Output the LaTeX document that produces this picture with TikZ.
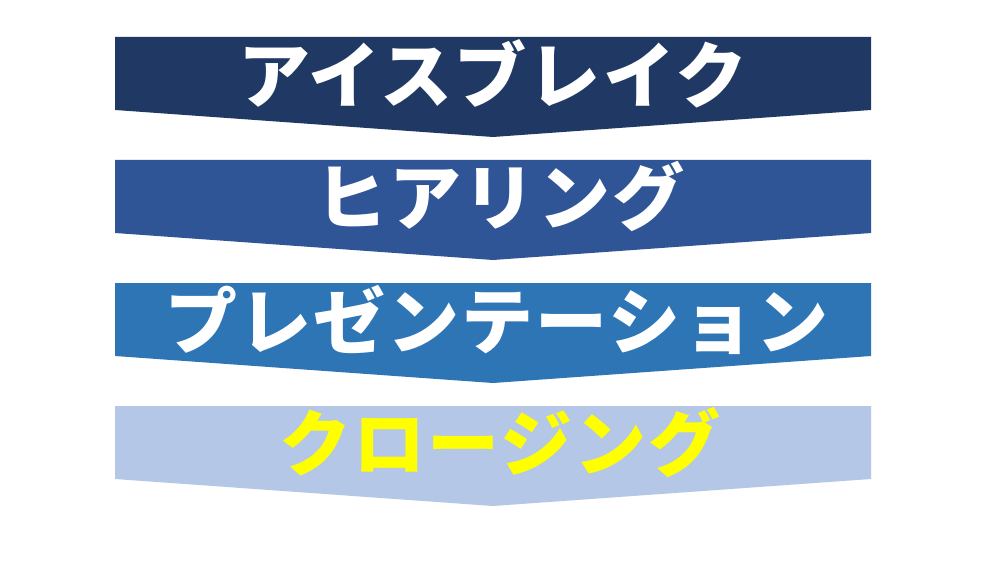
\documentclass[tikz,border=0pt]{standalone}
\usepackage{fontspec}
\newfontfamily\jp{Noto Sans CJK JP}
\definecolor{cA}{HTML}{203864}
\definecolor{cB}{HTML}{2F5597}
\definecolor{cC}{HTML}{2E75B6}
\definecolor{cD}{HTML}{B4C7E7}
\definecolor{cY}{HTML}{FFFF00}
\tikzset{
  label text/.style={font=\jp\bfseries\fontsize{72}{80}\selectfont\addfontfeature{LetterSpace=3}, inner sep=0pt, anchor=center},
}
\begin{document}
\begin{tikzpicture}[x=1pt,y=1pt]
\useasboundingbox[fill=white] (0,0) rectangle (1000,563);
\fill[cA] (115,526) -- (871,526) -- (871,453) -- (493,426) -- (115,453) -- cycle;
\fill[cB] (115,403) -- (871,403) -- (871,330) -- (493,303) -- (115,330) -- cycle;
\fill[cC] (115,280) -- (871,280) -- (871,207) -- (493,180) -- (115,207) -- cycle;
\fill[cD] (115,157) -- (871,157) -- (871,84) -- (493,57) -- (115,84) -- cycle;
\node[label text, text=white] (t1) at (493,489.5) {アイスブレイク};
\node[label text, text=white] (t2) at (500,366.5) {ヒアリング};
\node[label text, text=white] (t3) at (497,243.5) {プレゼンテーション};
\node[label text, text=cY] (t4) at (500,120.5) {クロージング};
\end{tikzpicture}
\end{document}
